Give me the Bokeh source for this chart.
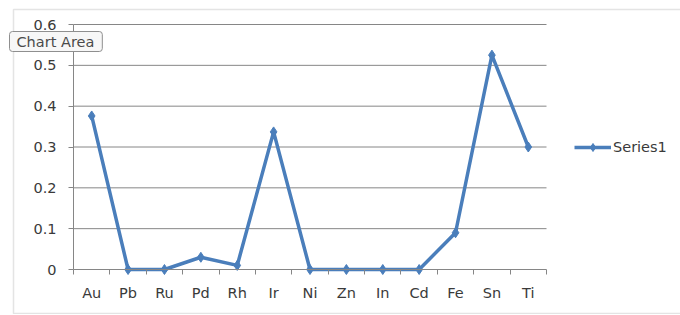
from bokeh.plotting import figure
from bokeh.models import (FixedTicker, Legend, LegendItem, Range1d, BoxAnnotation, Label,
                          LinearAxis)
from bokeh.embed import file_html
from bokeh.resources import INLINE

categories = ["Au", "Pb", "Ru", "Pd", "Rh", "Ir", "Ni", "Zn", "In", "Cd", "Fe", "Sn", "Ti"]
series1 = [0.376, 0.0, 0.0, 0.03, 0.01, 0.337, 0.0, 0.0, 0.0, 0.0, 0.09, 0.525, 0.30]
y_ticks = [0, 0.1, 0.2, 0.3, 0.4, 0.5, 0.6]
y_labels = ["0", "0.1", "0.2", "0.3", "0.4", "0.5", "0.6"]

xs = list(range(len(categories)))
BLUE = "#4a7ebb"
TXT = "#3a3a3a"
AXC = "#868686"
FONT = "DejaVu Sans"
FS = "14.5px"

W, H = 680, 314
# plot area in canvas pixels
PL, PR, PT, PB = 73, 546, 24, 269
x_lo, x_hi = -0.5, len(categories) - 0.5
y_lo, y_hi = y_ticks[0], y_ticks[-1]
xpp = (x_hi - x_lo) / (PR - PL)
ypp = (y_hi - y_lo) / (PB - PT)

p = figure(width=W, height=H, output_backend="svg", toolbar_location=None,
           x_range=Range1d(x_lo - PL * xpp, x_hi + (W - PR) * xpp),
           y_range=Range1d(y_lo - (H - PB) * ypp, y_hi + PT * ypp),
           x_axis_type=None, y_axis_type=None,
           min_border_left=0, min_border_right=0, min_border_top=0, min_border_bottom=0)
p.outline_line_color = None
p.background_fill_color = "white"
p.border_fill_color = "white"
p.xgrid.visible = False
p.ygrid.visible = False

# gridlines limited to the plot area
p.segment(x0=[x_lo] * (len(y_ticks) - 1), x1=[x_hi] * (len(y_ticks) - 1),
          y0=y_ticks[1:], y1=y_ticks[1:], line_color=AXC, line_width=1)

# x axis
xa = LinearAxis(fixed_location=y_lo, bounds=(x_lo, x_hi))
xa.ticker = FixedTicker(ticks=xs, minor_ticks=[i - 0.5 for i in range(len(categories) + 1)])
xa.major_label_overrides = {i: c for i, c in enumerate(categories)}
xa.major_tick_line_color = None
xa.minor_tick_in = 0
xa.minor_tick_out = 5
xa.minor_tick_line_color = AXC
xa.axis_line_color = AXC
xa.major_label_standoff = 9
xa.major_label_text_font = FONT
xa.major_label_text_font_size = FS
xa.major_label_text_color = TXT
p.add_layout(xa, "below")

# y axis
ya = LinearAxis(fixed_location=x_lo, bounds=(y_lo, y_hi))
ya.ticker = FixedTicker(ticks=y_ticks, minor_ticks=[])
ya.major_label_overrides = {t: l for t, l in zip(y_ticks, y_labels)}
ya.major_tick_in = 0
ya.major_tick_out = 5
ya.major_tick_line_color = AXC
ya.axis_line_color = AXC
ya.major_label_standoff = 12
ya.major_label_text_font = FONT
ya.major_label_text_font_size = FS
ya.major_label_text_color = TXT
p.add_layout(ya, "left")

line = p.line(xs, series1, line_color=BLUE, line_width=3.5)
marks = p.scatter(xs, series1, marker="diamond", size=10, fill_color=BLUE, line_color=BLUE)

legend = Legend(items=[LegendItem(label="Series1", renderers=[line, marks])],
                location=(574, H - 157), border_line_color=None, background_fill_alpha=0,
                label_text_font=FONT, label_text_font_size=FS, label_text_color=TXT,
                glyph_width=37, label_standoff=2, padding=0, margin=0)
p.add_layout(legend, "center")

# chart area border
p.add_layout(BoxAnnotation(left=13, right=W + 5, top=H - 9, bottom=1,
                           left_units="screen", right_units="screen",
                           top_units="screen", bottom_units="screen",
                           fill_alpha=0, line_color="#a6a6a6", line_width=1.5,
                           level="overlay"))

# tooltip
p.add_layout(Label(x=9, y=H - 31, x_units="screen", y_units="screen", text="Chart Area",
                   anchor="top_left", padding=dict(left=7, right=8, top=2, bottom=2),
                   text_font=FONT, text_font_size="14.5px",
                   text_color="#4a4a4a", background_fill_color="#f7f7f7",
                   border_line_color="#8f8f8f", border_radius=3, level="overlay"))

open("out.html", "w").write(file_html(p, INLINE))
